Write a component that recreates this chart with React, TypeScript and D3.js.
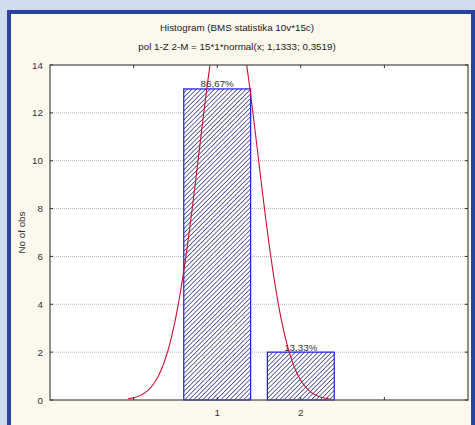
import React, { useEffect, useRef } from 'react';
import * as d3 from 'd3';

const categories = [1, 2];
const counts = [13, 2];
const percentLabels = ['86,67%', '13,33%'];
const yTicks = [0, 2, 4, 6, 8, 10, 12, 14];
const xTicks = [0, 1, 2, 3];
const total = 15;
const mean = 1.1333;
const sd = 0.3519;
const curveRange = [-0.07, 2.34];

const App = () => {
    const ref = useRef<SVGSVGElement>(null);

    useEffect(() => {
        const svg = d3.select(ref.current);
        svg.selectAll('*').remove();

        const W = 475, H = 425;
        const left = 50, right = 468, top = 65, bottom = 400;
        const font = 'Arial, "Liberation Sans", sans-serif';

        // background + frame
        svg.append('rect').attr('width', W).attr('height', H).attr('fill', '#cfdcee');
        svg.append('rect').attr('x', 9).attr('y', 12).attr('width', 464).attr('height', 420)
            .attr('fill', '#fbf8ed').attr('stroke', '#2a42a0').attr('stroke-width', 4);

        const x = d3.scaleLinear().domain([-1, 4]).range([left, right]);
        const y = d3.scaleLinear().domain([0, 14]).range([bottom, top]);

        const defs = svg.append('defs');
        const pat = defs.append('pattern').attr('id', 'hatch').attr('patternUnits', 'userSpaceOnUse')
            .attr('width', 3.2).attr('height', 3.2).attr('patternTransform', 'rotate(45)');
        pat.append('rect').attr('width', 3.2).attr('height', 3.2).attr('fill', '#ffffff');
        pat.append('line').attr('x1', 0).attr('y1', 0).attr('x2', 0).attr('y2', 3.2)
            .attr('stroke', '#343c88').attr('stroke-width', 1.5);
        defs.append('clipPath').attr('id', 'plotclip').append('rect')
            .attr('x', left).attr('y', top).attr('width', right - left).attr('height', bottom - top);

        // titles
        svg.append('text').attr('x', 237).attr('y', 31).attr('text-anchor', 'middle')
            .attr('font-family', font).attr('font-size', 9.8).attr('fill', '#222')
            .text('Histogram (BMS statistika 10v*15c)');
        svg.append('text').attr('x', 237).attr('y', 50).attr('text-anchor', 'middle')
            .attr('font-family', font).attr('font-size', 9.8).attr('fill', '#222')
            .text('pol 1-Z 2-M = 15*1*normal(x; 1,1333; 0,3519)');

        // plot area
        svg.append('rect').attr('x', left).attr('y', top).attr('width', right - left).attr('height', bottom - top)
            .attr('fill', '#ffffff');

        // grid lines
        svg.selectAll('.grid').data(yTicks.filter(d => d > 0 && d < 14)).enter().append('line')
            .attr('x1', left).attr('x2', right).attr('y1', d => y(d)).attr('y2', d => y(d))
            .attr('stroke', '#b8b8b8').attr('stroke-width', 1).attr('stroke-dasharray', '1,1');

        // bars
        const bw = 0.8;
        svg.selectAll('.bar').data(categories).enter().append('rect')
            .attr('x', (d) => x(d - bw / 2)).attr('width', x(bw) - x(0))
            .attr('y', (d, i) => y(counts[i])).attr('height', (d, i) => bottom - y(counts[i]))
            .attr('fill', 'url(#hatch)').attr('stroke', '#1a1af0').attr('stroke-width', 1.2);

        // percent labels
        svg.selectAll('.pct').data(categories).enter().append('text')
            .attr('x', d => x(d)).attr('y', (d, i) => y(counts[i]) - 1.5)
            .attr('text-anchor', 'middle').attr('font-family', font).attr('font-size', 9.8)
            .attr('fill', '#333').text((d, i) => percentLabels[i]);

        // normal curve
        const pdf = (v: number) => total * 1 * Math.exp(-((v - mean) ** 2) / (2 * sd * sd)) / (sd * Math.sqrt(2 * Math.PI));
        const xs = d3.range(curveRange[0], curveRange[1] + 0.001, 0.01);
        const line = d3.line<number>().x(v => x(v)).y(v => y(pdf(v))).curve(d3.curveLinear);
        svg.append('path').attr('d', line(xs)).attr('fill', 'none').attr('stroke', '#c8102e')
            .attr('stroke-width', 1.1).attr('clip-path', 'url(#plotclip)');

        // frame of plot
        svg.append('rect').attr('x', left).attr('y', top).attr('width', right - left).attr('height', bottom - top)
            .attr('fill', 'none').attr('stroke', '#555').attr('stroke-width', 1.3);

        // y ticks
        const yt = svg.append('g');
        yTicks.forEach(t => {
            yt.append('line').attr('x1', left).attr('x2', left + 3).attr('y1', y(t)).attr('y2', y(t)).attr('stroke', '#333');
            yt.append('line').attr('x1', right - 3).attr('x2', right).attr('y1', y(t)).attr('y2', y(t)).attr('stroke', '#333');
            yt.append('text').attr('x', left - 7).attr('y', y(t) + 3.5).attr('text-anchor', 'end')
                .attr('font-family', font).attr('font-size', 9.8).attr('fill', '#333').text(t);
        });

        // x ticks
        xTicks.forEach(t => {
            svg.append('line').attr('x1', x(t)).attr('x2', x(t)).attr('y1', top).attr('y2', top + 3).attr('stroke', '#333');
            svg.append('line').attr('x1', x(t)).attr('x2', x(t)).attr('y1', bottom - 3).attr('y2', bottom).attr('stroke', '#333');
        });
        svg.selectAll('.xl').data(categories).enter().append('text')
            .attr('x', d => x(d)).attr('y', bottom + 16).attr('text-anchor', 'middle')
            .attr('font-family', font).attr('font-size', 9.8).attr('fill', '#333').text(d => d);

        // y axis title
        svg.append('text').attr('transform', `translate(25,${(top + bottom) / 2}) rotate(-90)`)
            .attr('text-anchor', 'middle').attr('font-family', font).attr('font-size', 9.8).attr('fill', '#333')
            .text('No of obs');
    }, []);

    return <svg ref={ref} width={475} height={425} style={{ position: 'absolute', left: 0, top: 0 }} />;
};

export default App;
